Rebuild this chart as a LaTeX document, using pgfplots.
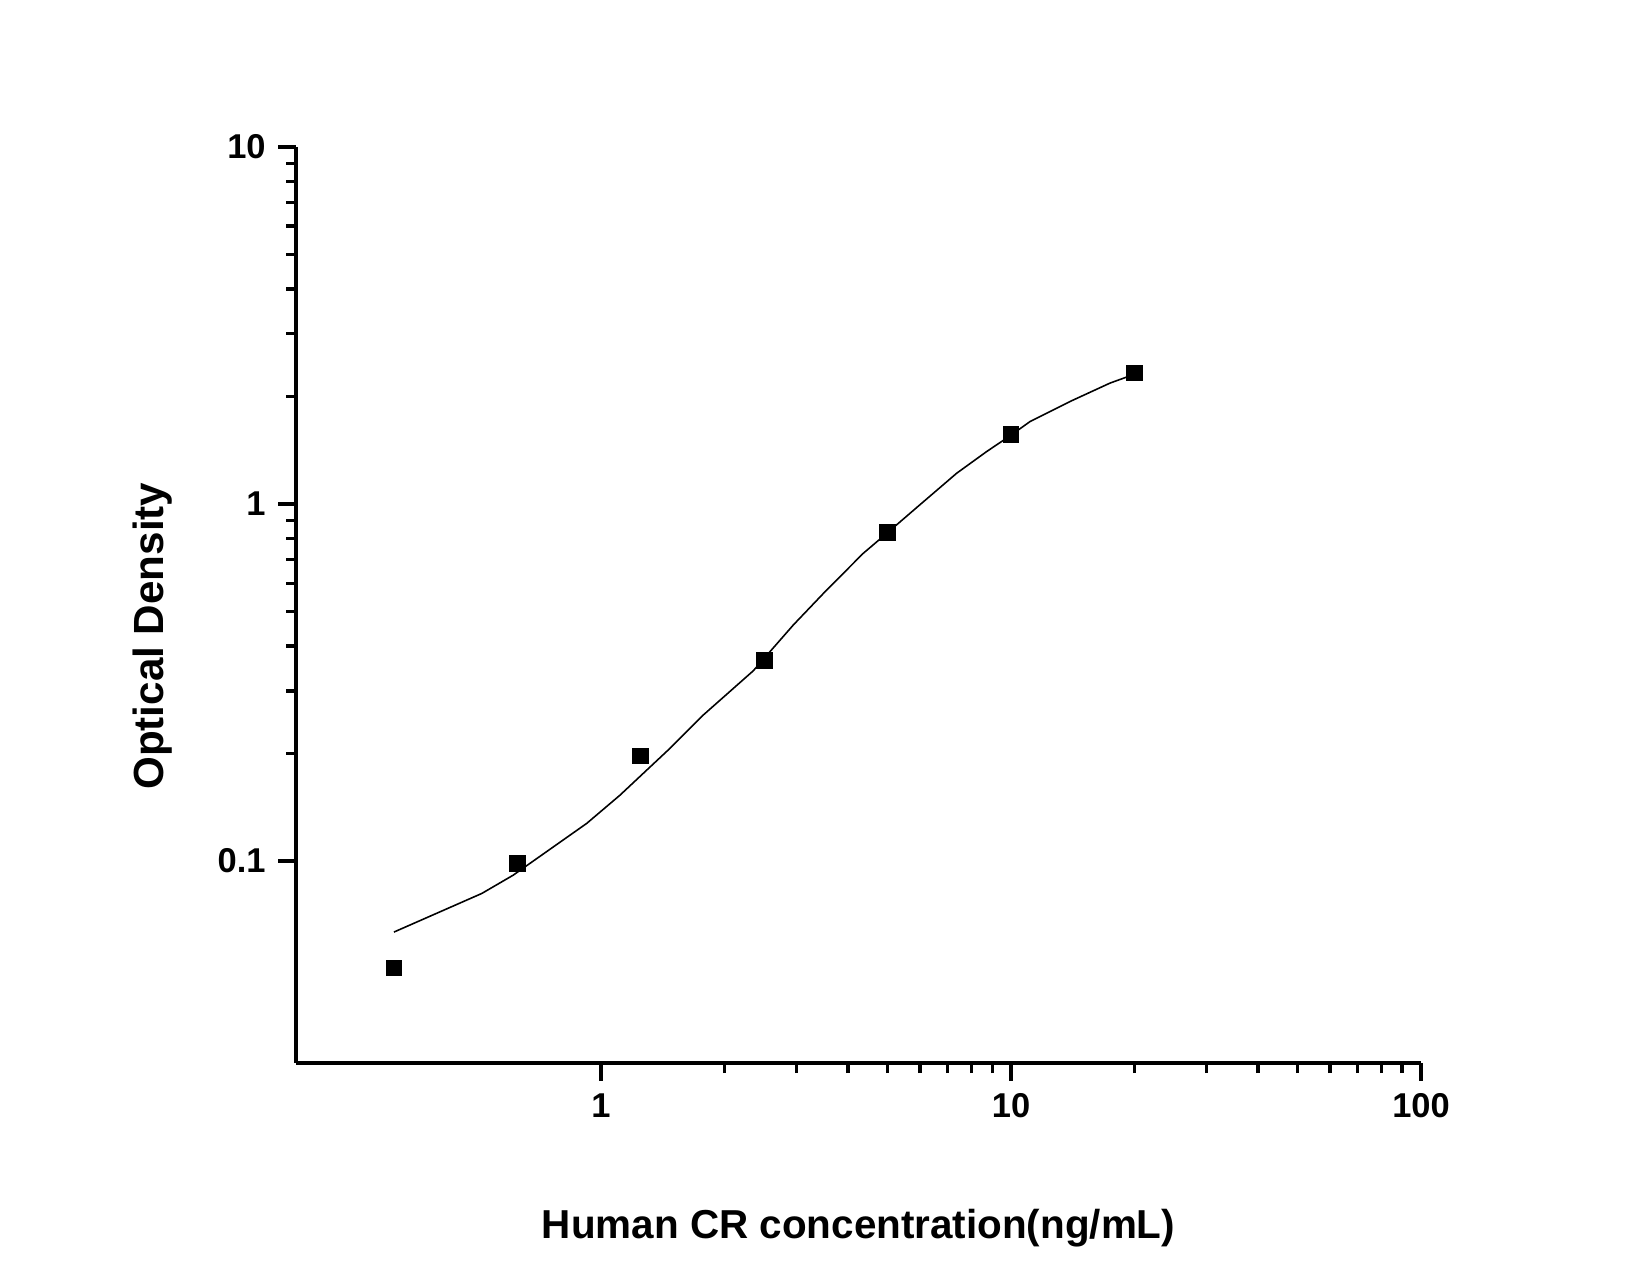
\documentclass[border=0pt]{standalone}
\usepackage{fontspec}
\setmainfont{Liberation Sans}
\usepackage{pgfplots}
\pgfplotsset{compat=1.18}

\begin{document}
\begin{tikzpicture}[x=1mm,y=1mm]
  % page frame: 1650 x 1275 px at 0.1 mm per px, axis corner at (0,0)
  \useasboundingbox (-29.6,-21.2) rectangle (135.4,106.3);
  \begin{axis}[
      at={(0,0)}, anchor=south west,
      width=112.5mm, height=91.6mm,
      scale only axis=true,
      xmode=log, ymode=log,
      xmin=0.1803, xmax=100,
      ymin=0.0272, ymax=10,
      axis x line=bottom, axis y line=left,
      axis line style={line width=1pt, -},
      tick align=outside,
      major tick length=1.8mm, minor tick length=1.0mm,
      tick style={line width=1pt, black},
      major tick style={line width=1pt, black},
      minor tick style={line width=1pt, black},
      xtick={1,10,100}, xticklabels={1,10,100},
      ytick={0.1,1,10}, yticklabels={0.1,1,10},
      ticklabel style={font=\fontsize{9.8}{11}\bfseries\selectfont},
      xlabel={Human CR concentration(ng/mL)},
      ylabel={Optical Density},
      xlabel style={at={(axis description cs:0.5,0)}, anchor=center,
        yshift=-16.5mm, font=\fontsize{11.5}{13}\bfseries\selectfont},
      ylabel style={at={([xshift=-14.3mm]axis description cs:0,0.466)},
        anchor=center, font=\fontsize{12}{14}\bfseries\selectfont},
      clip=false,
    ]
    % fitted standard curve
    \addplot[black, line width=0.45pt, no marks] coordinates {
      (0.3125,0.0633) (0.512,0.0812) (0.611,0.0914) (0.923,0.1276)
      (1.112,0.1530) (1.473,0.207) (1.776,0.2566) (2.352,0.3414)
      (2.944,0.4585) (3.552,0.5747) (4.363,0.7283) (5.0,0.832)
      (5.9,0.98) (7.37,1.22) (8.72,1.403) (10,1.56) (11.13,1.703)
      (13.93,1.938) (17.44,2.182) (20,2.31)
    };
    % measured standards
    \addplot[only marks, mark=square*, mark size=0.77mm, black] coordinates {
      (0.3125,0.0502) (0.625,0.0985) (1.25,0.197) (2.5,0.364)
      (5,0.834) (10,1.563) (20,2.328)
    };
  \end{axis}
\end{tikzpicture}
\end{document}
